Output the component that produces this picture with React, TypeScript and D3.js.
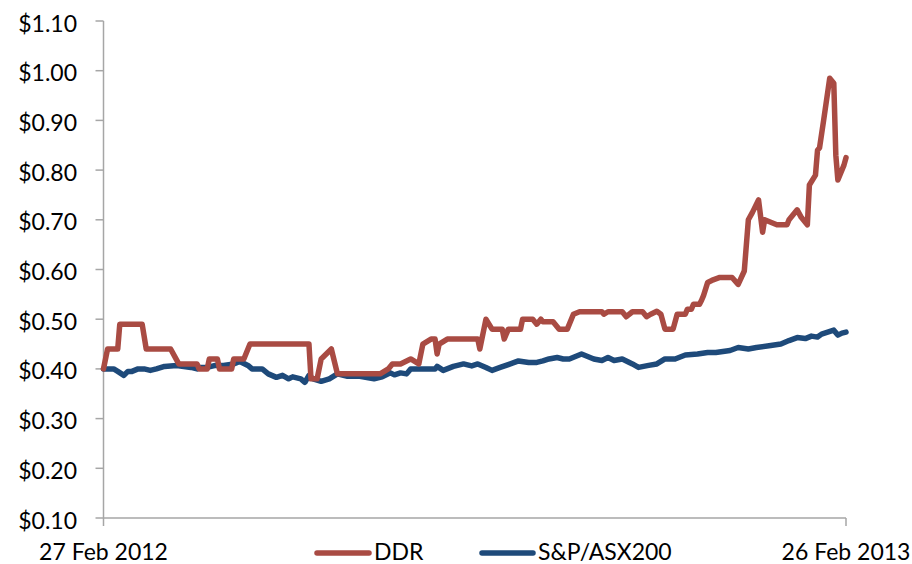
import React from "react";
import * as d3 from "d3";

const START = new Date(2012, 1, 27);
const END = new Date(2013, 1, 26);
const xTickLabels = ["27 Feb 2012", "26 Feb 2013"];
const yTicks = [0.1, 0.2, 0.3, 0.4, 0.5, 0.6, 0.7, 0.8, 0.9, 1.0, 1.1];
const seriesNames = ["DDR", "S&P/ASX200"];

// day offset from 27 Feb 2012, value in $
const ddrDays = [0, 2, 7, 8, 19, 21, 33, 37, 46, 47, 51, 52, 56, 57, 63, 64, 69, 72, 101, 102, 105, 107, 112, 115, 136, 140, 142, 146, 151, 155, 157, 161, 163, 164, 165, 169, 184, 185, 188, 191, 196, 197, 199, 205, 206, 211, 213, 215, 216, 221, 224, 228, 231, 234, 245, 246, 248, 255, 257, 260, 265, 267, 269, 272, 274, 276, 280, 282, 286, 287, 289, 290, 293, 294, 295, 297, 299, 303, 309, 312, 315, 317, 319, 322, 324, 325, 331, 336, 337, 341, 343, 346, 347, 350, 351, 352, 354, 357, 359, 360, 361, 364, 365];
const ddrValues = [0.40, 0.44, 0.44, 0.49, 0.49, 0.44, 0.44, 0.41, 0.41, 0.40, 0.40, 0.42, 0.42, 0.40, 0.40, 0.42, 0.42, 0.45, 0.45, 0.38, 0.38, 0.42, 0.44, 0.39, 0.39, 0.40, 0.41, 0.41, 0.42, 0.41, 0.45, 0.46, 0.46, 0.43, 0.45, 0.46, 0.46, 0.44, 0.50, 0.48, 0.48, 0.46, 0.48, 0.48, 0.50, 0.50, 0.49, 0.50, 0.495, 0.495, 0.48, 0.48, 0.51, 0.515, 0.515, 0.51, 0.515, 0.515, 0.505, 0.515, 0.515, 0.505, 0.51, 0.516, 0.51, 0.48, 0.48, 0.51, 0.51, 0.52, 0.52, 0.53, 0.53, 0.538, 0.548, 0.574, 0.578, 0.584, 0.584, 0.57, 0.597, 0.70, 0.715, 0.74, 0.675, 0.70, 0.69, 0.69, 0.70, 0.72, 0.705, 0.69, 0.77, 0.79, 0.84, 0.845, 0.90, 0.985, 0.975, 0.83, 0.78, 0.81, 0.825];

const asxDays = [0, 5, 7, 10, 12, 14, 17, 20, 23, 26, 30, 36, 43, 46, 48, 51, 55, 59, 64, 67, 71, 73, 78, 81, 85, 88, 91, 93, 97, 99, 101, 103, 107, 111, 115, 120, 126, 133, 137, 141, 143, 146, 149, 151, 157, 163, 164, 167, 172, 177, 181, 184, 188, 191, 195, 200, 204, 209, 213, 216, 219, 223, 226, 229, 235, 241, 245, 248, 251, 255, 260, 263, 268, 272, 276, 281, 286, 292, 297, 301, 308, 312, 317, 321, 328, 333, 337, 341, 345, 348, 351, 353, 359, 361, 363, 365];
const asxValues = [0.40, 0.40, 0.395, 0.387, 0.395, 0.395, 0.40, 0.40, 0.397, 0.40, 0.405, 0.407, 0.403, 0.40, 0.403, 0.403, 0.407, 0.407, 0.41, 0.415, 0.407, 0.40, 0.40, 0.39, 0.383, 0.387, 0.38, 0.384, 0.38, 0.373, 0.387, 0.38, 0.375, 0.38, 0.39, 0.385, 0.385, 0.38, 0.384, 0.392, 0.388, 0.392, 0.39, 0.40, 0.40, 0.40, 0.405, 0.397, 0.405, 0.41, 0.406, 0.41, 0.403, 0.397, 0.403, 0.41, 0.416, 0.413, 0.413, 0.416, 0.42, 0.423, 0.42, 0.42, 0.43, 0.42, 0.417, 0.423, 0.417, 0.42, 0.41, 0.403, 0.407, 0.41, 0.42, 0.42, 0.428, 0.43, 0.433, 0.433, 0.437, 0.443, 0.44, 0.443, 0.447, 0.45, 0.457, 0.463, 0.461, 0.466, 0.464, 0.47, 0.478, 0.468, 0.472, 0.474];

const RED = "#A94B43";
const BLUE = "#1E4A7A";
const AXIS = "#A6A6A6";
const FONT = "Lato, 'Open Sans', sans-serif";

export default function App() {
  const W = 912, H = 564;
  const left = 103.5, right = 846, top = 21, bottom = 518;
  const x = d3.scaleTime().domain([START, END]).range([left, right]);
  const y = d3.scaleLinear().domain([0.1, 1.1]).range([bottom, top]);
  const toPts = (days: number[], vals: number[]) =>
    days.map((d, i) => ({ date: d3.timeDay.offset(START, d), v: vals[i] }));
  const line = d3
    .line<{ date: Date; v: number }>()
    .x((d) => x(d.date))
    .y((d) => y(d.v));
  const ddr = toPts(ddrDays, ddrValues);
  const asx = toPts(asxDays, asxValues);
  const fmt = (v: number) => "$" + v.toFixed(2);

  return (
    <svg width={W} height={H} style={{ position: "absolute", left: 0, top: 0 }} fontFamily={FONT}>
      <rect width={W} height={H} fill="#fff" />
      {/* y axis */}
      <line x1={left} x2={left} y1={top} y2={bottom} stroke={AXIS} strokeWidth={1.5} />
      {yTicks.map((t) => (
        <g key={t}>
          <line x1={left - 8} x2={left} y1={y(t)} y2={y(t)} stroke={AXIS} strokeWidth={1.5} />
          <text x={77} y={y(t) + 10.5} textAnchor="end" fontSize={23} fill="#000">
            {fmt(t)}
          </text>
        </g>
      ))}
      {/* x axis */}
      <line x1={left} x2={right} y1={bottom} y2={bottom} stroke={AXIS} strokeWidth={1.5} />
      {[START, END].map((d, i) => (
        <g key={i}>
          <line x1={x(d)} x2={x(d)} y1={bottom} y2={bottom + 8} stroke={AXIS} strokeWidth={1.5} />
          <text x={x(d)} y={560} textAnchor="middle" fontSize={23} fill="#000">
            {xTickLabels[i]}
          </text>
        </g>
      ))}
      {/* series */}
      <path d={line(asx) || ""} fill="none" stroke={BLUE} strokeWidth={5.5} strokeLinejoin="round" strokeLinecap="round" />
      <path d={line(ddr) || ""} fill="none" stroke={RED} strokeWidth={5.5} strokeLinejoin="round" strokeLinecap="round" />
      {/* legend */}
      <line x1={317} x2={369} y1={553} y2={553} stroke={RED} strokeWidth={5.5} strokeLinecap="round" />
      <text x={374} y={560} fontSize={23} fill="#000">{seriesNames[0]}</text>
      <line x1={482} x2={533} y1={553} y2={553} stroke={BLUE} strokeWidth={5.5} strokeLinecap="round" />
      <text x={538} y={560} fontSize={23} fill="#000">{seriesNames[1]}</text>
    </svg>
  );
}
